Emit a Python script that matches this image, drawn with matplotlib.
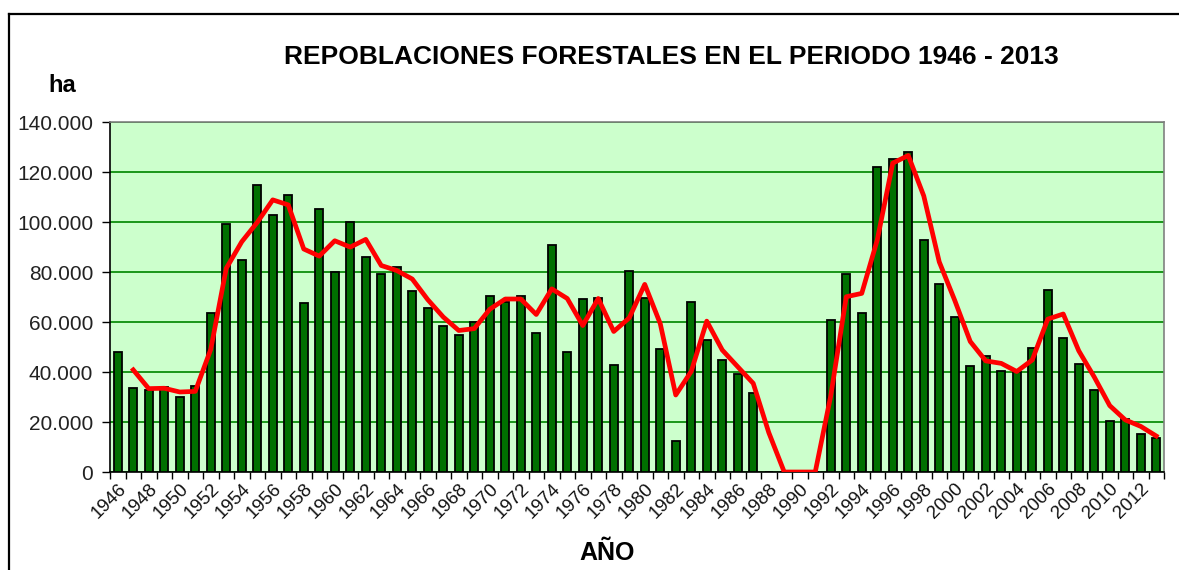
import matplotlib
matplotlib.use("Agg")
import matplotlib.pyplot as plt
from matplotlib.lines import Line2D
from matplotlib.ticker import FuncFormatter, FixedLocator

plt.rcParams["font.family"] = ["Liberation Sans", "DejaVu Sans"]

# --- Data (ha repobladas por año) ---
years = list(range(1946, 2014))
hectares = [
    48000, 33700, 33000, 34000, 30000, 34500, 63600, 99300, 84900, 114800,
    102900, 110800, 67600, 105100, 79900, 100000, 86100, 79100, 82100, 72300,
    65600, 58400, 54800, 59900, 70300, 68100, 70300, 55700, 90800, 48000,
    69200, 69600, 42800, 80500, 69600, 49100, 12500, 68000, 52700, 44900,
    39300, 31600, 0, 0, 0, 0, 60900, 79300, 63600, 122000,
    125100, 128100, 92800, 75300, 62000, 42400, 46500, 40400, 40000, 49600,
    72700, 53700, 43300, 32700, 20400, 21300, 15200, 13600,
]

# red trend line (media movil 2 periodos), from 1947
trend_years = list(range(1947, 2014))
trend = [
    40850, 33350, 33500, 32000, 32250, 49050, 81450, 92100, 99850, 108850,
    106850, 89200, 86350, 92500, 89950, 93050, 82600, 80600, 77200, 68950,
    62000, 56600, 57350, 65100, 69200, 69200, 63000, 73250, 69400, 58600,
    69400, 56200, 61650, 75050, 59350, 30800, 40250, 60350, 48800, 42100,
    35450, 15800, 0, 0, 0, 30450, 70100, 71450, 92800, 123550,
    126600, 110450, 84050, 68650, 52200, 44450, 43450, 40200, 44800, 61150,
    63200, 48500, 38000, 26550, 20850, 18250, 14400,
]

W, H = 1179, 570
fig = plt.figure(figsize=(W / 100, H / 100), dpi=100)
fig.patch.set_facecolor("white")

ax = fig.add_axes([110 / W, 1 - 472 / H, (1164 - 110) / W, (472 - 122) / H])
ax.set_facecolor("#CCFFCC")

ax.bar(years, hectares, width=0.52, color="#007000", edgecolor="black",
       linewidth=1.3, zorder=3)
ax.plot(trend_years, trend, color="#FF0000", linewidth=3.4, zorder=4,
        solid_joinstyle="round")

ax.set_xlim(years[0] - 0.5, years[-1] + 0.5)
ax.set_ylim(0, 140000)
ax.set_yticks(range(0, 140001, 20000))
ax.yaxis.set_major_formatter(FuncFormatter(lambda v, p: f"{int(v):,}".replace(",", ".")))
ax.grid(axis="y", color="#1A961A", linewidth=1.4, zorder=1)
ax.set_axisbelow(True)

# ticks on category boundaries, labels every other year at centre
ax.xaxis.set_major_locator(FixedLocator([y - 0.5 for y in years] + [years[-1] + 0.5]))
ax.xaxis.set_major_formatter(FuncFormatter(lambda v, p: ""))
ax.xaxis.set_minor_locator(FixedLocator(years[::2]))
ax.set_xticklabels([str(y) for y in years[::2]], minor=True, rotation=45,
                   ha="right", rotation_mode="anchor", fontsize=13.5,
                   color="#111111")
ax.tick_params(axis="x", which="minor", length=0, pad=6)
ax.tick_params(axis="x", which="major", length=5, width=1, color="black")
ax.tick_params(axis="y", length=6, width=1, labelsize=15, pad=6,
               labelcolor="#222222")

for s in ("left", "bottom"):
    ax.spines[s].set_color("black")
    ax.spines[s].set_linewidth(1.2)
for s in ("top", "right"):
    ax.spines[s].set_color("#808080")
    ax.spines[s].set_linewidth(1.2)

fig.text(671 / W, 1 - 57 / H, "REPOBLACIONES FORESTALES EN EL PERIODO 1946 - 2013",
         ha="center", va="center", fontsize=19, fontweight="bold")
fig.text(62 / W, 1 - 85 / H, "ha", ha="center", va="center", fontsize=17,
         fontweight="bold")
fig.text(607 / W, 1 - 553 / H, "AÑO", ha="center", va="center", fontsize=18,
         fontweight="bold")

# outer chart frame (top and left visible)
fig.add_artist(Line2D([9 / W, 1], [1 - 14 / H, 1 - 14 / H], color="black", linewidth=1.6))
fig.add_artist(Line2D([9 / W, 9 / W], [0, 1 - 14 / H], color="black", linewidth=1.6))

fig.savefig("out.png", dpi=100)
